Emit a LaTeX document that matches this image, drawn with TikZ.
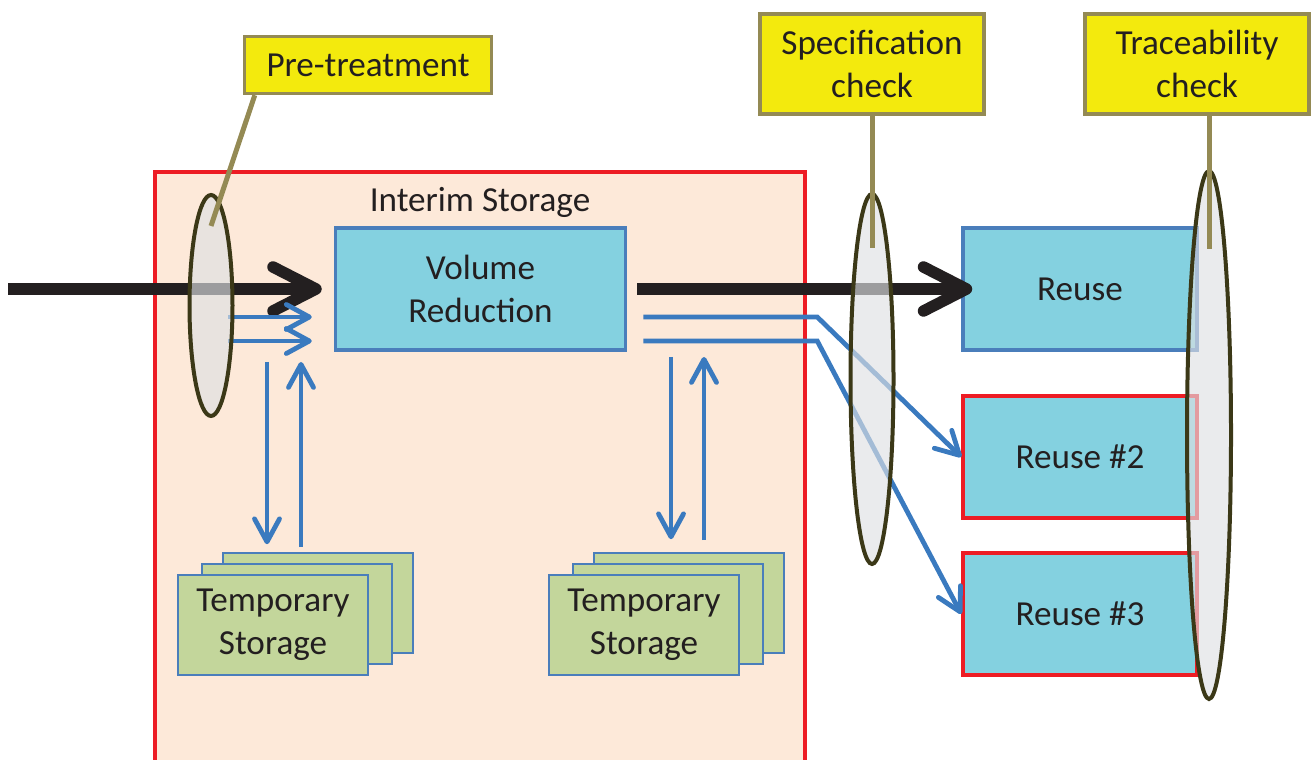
\documentclass[tikz,border=0pt]{standalone}
\usepackage{fontspec}
\setmainfont{Carlito}
\usetikzlibrary{shapes.geometric, arrows.meta, calc}
\definecolor{peach}{HTML}{FDE9D9}
\definecolor{boxred}{HTML}{ED1C24}
\definecolor{cyanfill}{HTML}{84D1E0}
\definecolor{boxblue}{HTML}{4A7EBB}
\definecolor{flowblue}{HTML}{3A7ABF}
\definecolor{tagyellow}{HTML}{F3EA0D}
\definecolor{tagolive}{HTML}{948A54}
\definecolor{tempgreen}{HTML}{C3D69B}
\definecolor{gateline}{HTML}{3B3817}
\definecolor{gatefill}{HTML}{DEE0E3}
\definecolor{inktext}{HTML}{231F20}
\tikzset{
	diagramnode/.style = {text centered, align=center, inner sep=0pt, text=inktext, font=\fontsize{10}{12.3}\selectfont},
	tag/.style = {rectangle, diagramnode, fill=tagyellow, draw=tagolive, line width=0.035cm, minimum width=2.24cm, minimum height=1.0cm},
	process/.style = {rectangle, diagramnode, fill=cyanfill, draw=boxblue, line width=0.035cm, minimum width=2.9cm, minimum height=1.22cm},
	reuse/.style = {process, minimum width=2.34cm},
	tempbox/.style = {rectangle, diagramnode, fill=tempgreen, draw=boxblue, line width=0.015cm, minimum width=1.9cm, minimum height=1.0cm},
	gate/.style = {ellipse, draw=gateline, line width=0.04cm, fill=gatefill, fill opacity=0.65, inner sep=0pt, minimum width=0.43cm},
	pointer/.style = {draw=tagolive, line width=0.05cm},
	line/.style = {draw=inktext, line width=0.115cm, -{Straight Barb[length=0.43cm, width=0.44cm, round]}},
	blueline/.style = {draw=flowblue, line width=0.048cm, -{Straight Barb[length=0.23cm, width=0.25cm, round]}}
}
\begin{document}
\begin{tikzpicture}[node distance=1.68cm]
	\useasboundingbox (0,0) rectangle (13.11,-7.60);
	% Interim storage area, open at the bottom
	\fill [peach] (1.55,-1.72) rectangle (8.05,-7.60);
	\draw [boxred, line width=0.035cm] (1.55,-7.65) -- (1.55,-1.72) -- (8.05,-1.72) -- (8.05,-7.65);
	\node (interim) [diagramnode] at (4.80,-2.02) {Interim Storage};

	% Define the boxes
	\node (volred) [process] at (4.805,-2.89) {Volume\\Reduction};
	\node (reuse) [reuse] at (10.80,-2.89) {Reuse};
	\node (reuse2) [reuse, draw=boxred, below of=reuse] {Reuse \#2};
	\node (reuse3) [reuse, draw=boxred, below of=reuse2, yshift=0.11cm] {Reuse \#3};

	\node (tmpA3) [tempbox] at (3.18,-6.03) {};
	\node (tmpA2) [tempbox] at ($(tmpA3)+(-0.21,-0.11)$) {};
	\node (tmpA) [tempbox] at ($(tmpA2)+(-0.24,-0.11)$) {Temporary\\Storage};
	\node (tmpB3) [tempbox] at (6.89,-6.03) {};
	\node (tmpB2) [tempbox] at ($(tmpB3)+(-0.21,-0.11)$) {};
	\node (tmpB) [tempbox] at ($(tmpB2)+(-0.24,-0.11)$) {Temporary\\Storage};

	% Define the flows
	\coordinate (source) at (0.08,-2.89);
	\coordinate (feed1) at (2.28,-3.17);
	\coordinate (feed2) at (2.28,-3.41);
	\coordinate (dropA) at (2.67,-3.62);
	\coordinate (liftA) at (3.01,-3.62);
	\coordinate (dropB) at (6.71,-3.57);
	\coordinate (liftB) at (7.04,-3.57);

	\path [line, shorten >=0.12cm] (source) -- (volred.west);
	\path [line, shorten >=-0.11cm] ([xshift=0.1cm]volred.east) -- (reuse.west);
	\path [blueline, shorten >=0.22cm] (feed1) -- (feed1 -| volred.west);
	\path [blueline, shorten >=0.22cm] (feed2) -- (feed2 -| volred.west);
	\path [blueline] ([shift={(0.16,-0.28)}]volred.east) -- ++(1.74,0) -- (reuse2.west);
	\path [blueline] ([shift={(0.16,-0.52)}]volred.east) -- ++(1.74,0) -- (reuse3.west);
	\path [blueline, shorten >=0.08cm] (dropA) -- (dropA |- tmpA3.north);
	\path [blueline, shorten <=0.05cm] (liftA |- tmpA3.north) -- (liftA);
	\path [blueline, shorten >=0.13cm] (dropB) -- (dropB |- tmpB3.north);
	\path [blueline, shorten <=0.12cm] (liftB |- tmpB3.north) -- (liftB);

	% Define the checks
	\node (gatepre) [gate, minimum height=2.21cm] at (2.11,-3.055) {};
	\node (gatespec) [gate, minimum height=3.70cm] at (8.72,-3.79) {};
	\node (gatetrace) [gate, minimum height=5.28cm, minimum width=0.44cm] at (12.09,-4.35) {};

	\node (pretreat) [tag, minimum width=2.47cm, minimum height=0.57cm] at (3.68,-0.65) {Pre-treatment};
	\node (speccheck) [tag] at (8.72,-0.64) {Specification\\check};
	\node (tracecheck) [tag] at (11.97,-0.64) {Traceability\\check};

	\path [pointer] ([xshift=0.12cm]pretreat.south west) -- ([yshift=-0.33cm]gatepre.north);
	\path [pointer] (speccheck.south) -- ([yshift=-0.56cm]gatespec.north);
	\path [pointer] (tracecheck.south -| gatetrace.north) -- ([yshift=-0.8cm]gatetrace.north);
\end{tikzpicture}
\end{document}
